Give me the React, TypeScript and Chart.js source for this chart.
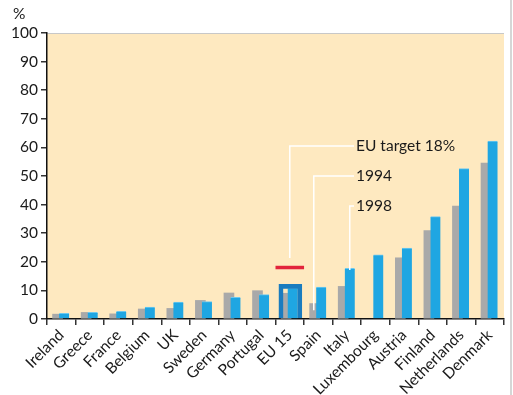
import React, { useEffect, useRef } from "react";
import { Chart, registerables } from "chart.js";

Chart.register(...registerables);

const categories = [
  "Ireland", "Greece", "France", "Belgium", "UK", "Sweden", "Germany", "Portugal",
  "EU 15", "Spain", "Italy", "Luxembourg", "Austria", "Finland", "Netherlands", "Denmark",
];
const values1994 = [1.7, 2.3, 1.8, 3.5, 3.7, 6.5, 9.1, 9.9, 9.0, 5.4, 11.4, null, 21.4, 30.9, 39.5, 54.5];
const values1998 = [2.0, 2.3, 2.7, 4.2, 5.9, 6.1, 7.6, 8.5, 10.8, 11.2, 17.7, 22.4, 24.8, 35.8, 52.6, 62.2];
const yTicks = { min: 0, max: 100, step: 10 };
const euIndex = 8;
const euTarget = 18;
const euBoxValue = 12.1;
const leaderTarget = [{ x: 8, y: 21.3 }, { x: 8, y: 60.5 }, { x: 10.25, y: 60.5 }];
const leader1994 = [{ x: 8.84, y: 3.1 }, { x: 8.84, y: 50 }, { x: 10.25, y: 50 }];
const leader1998 = [{ x: 10.1, y: 17.1 }, { x: 10.1, y: 39.5 }, { x: 10.25, y: 39.5 }];
const annotationTexts = [
  { text: "EU target 18%", x: 10.25, y: 60.5 },
  { text: "1994", x: 10.25, y: 50 },
  { text: "1998", x: 10.25, y: 39.5 },
];

const FONT = "Lato, 'Open Sans', sans-serif";

export default function App() {
  const ref = useRef<HTMLCanvasElement | null>(null);
  useEffect(() => {
    if (!ref.current) return;
    const bgPlugin = {
      id: "bg",
      beforeDraw(chart: any) {
        const { ctx, chartArea: a } = chart;
        ctx.save();
        ctx.fillStyle = "#fee9c0";
        ctx.fillRect(a.left, a.top, a.right - a.left, a.bottom - a.top);
        ctx.strokeStyle = "#c8c8c8";
        ctx.lineWidth = 1;
        ctx.beginPath();
        ctx.moveTo(a.left, a.top + 0.5);
        ctx.lineTo(a.right, a.top + 0.5);
        ctx.stroke();
        ctx.restore();
      },
      afterDraw(chart: any) {
        const { ctx } = chart;
        const xs = chart.scales.xl;
        const ys = chart.scales.y;
        ctx.save();
        ctx.fillStyle = "#1a1a1a";
        ctx.font = `15.5px ${FONT}`;
        ctx.textBaseline = "middle";
        ctx.textAlign = "left";
        for (const t of annotationTexts) {
          ctx.fillText(t.text, xs.getPixelForValue(t.x) + 2, ys.getPixelForValue(t.y));
        }
        ctx.fillText("%", 13, 14);
        ctx.restore();
      },
    };
    const grayData = values1994
      .map((v, i) => ({ x: i - 0.13, y: v }))
      .filter((p) => p.y != null);
    const blueData = values1998.map((v, i) => ({ x: i + 0.1, y: v }));
    const leaderStyle = {
      type: "line" as const,
      xAxisID: "xl",
      borderColor: "#ffffff",
      borderWidth: 1.5,
      pointRadius: 0,
      fill: false,
      tension: 0,
      order: 0,
    };
    const chart = new Chart(ref.current, {
      type: "bar",
      data: {
        labels: categories,
        datasets: [
          { ...leaderStyle, data: leaderTarget } as any,
          { ...leaderStyle, data: leader1994 } as any,
          { ...leaderStyle, data: leader1998 } as any,
          {
            type: "line",
            xAxisID: "xl",
            data: [{ x: euIndex - 0.5, y: euTarget }, { x: euIndex + 0.5, y: euTarget }],
            borderColor: "#e2243c",
            borderWidth: 3.5,
            pointRadius: 0,
            fill: false,
            order: 0,
          } as any,
          {
            xAxisID: "xl",
            grouped: false,
            data: [{ x: euIndex + 0.02, y: euBoxValue }],
            backgroundColor: "rgba(0,0,0,0)",
            borderColor: "#1a7cbf",
            borderWidth: 4,
            barThickness: 23,
            order: 1,
          } as any,
          {
            xAxisID: "xl",
            grouped: false,
            data: blueData,
            backgroundColor: "#1fa6e2",
            borderColor: "#6cc8ef",
            borderWidth: { top: 1, left: 0, right: 0, bottom: 0 },
            borderSkipped: false,
            barThickness: 10,
            order: 2,
          } as any,
          {
            xAxisID: "xl",
            grouped: false,
            data: grayData,
            backgroundColor: "#a9a9a9",
            barThickness: 10,
            order: 3,
          } as any,
        ],
      },
      options: {
        animation: false,
        responsive: false,
        maintainAspectRatio: false,
        layout: { padding: { left: 0, right: 9, top: 33, bottom: 0 } },
        plugins: { legend: { display: false }, tooltip: { enabled: false }, title: { display: false } },
        scales: {
          x: {
            type: "category",
            offset: true,
            grid: { display: true, offset: true, drawOnChartArea: false, tickLength: 6, color: "#333", lineWidth: 1.5 },
            border: { display: true, color: "#111", width: 1.5 },
            ticks: {
              autoSkip: false,
              minRotation: 45,
              maxRotation: 45,
              padding: 1,
              color: "#1a1a1a",
              font: { family: FONT, size: 15.5 },
            },
            afterFit(scale: any) { scale.height = 76; },
          },
          xl: {
            type: "linear",
            display: false,
            offset: false,
            grid: { offset: false },
            min: -0.5,
            max: categories.length - 0.5,
          },
          y: {
            min: yTicks.min,
            max: yTicks.max,
            grid: { display: true, drawOnChartArea: false, tickLength: 6, color: "#333", lineWidth: 1.5 },
            border: { display: true, color: "#111", width: 1.5 },
            ticks: {
              stepSize: yTicks.step,
              padding: 3,
              color: "#1a1a1a",
              font: { family: FONT, size: 15.5 },
            },
            afterFit(scale: any) { scale.width = 47; },
          },
        } as any,
      },
      plugins: [bgPlugin],
    });
    return () => chart.destroy();
  }, []);
  return (
    <div style={{ position: "fixed", left: 0, top: 0, width: 513, height: 395, background: "#fff" }}>
      <div style={{ position: "absolute", left: 510, top: 0, width: 2, height: 395, background: "#d6d6d6" }} />
      <canvas ref={ref} width={513} height={395} style={{ display: "block", width: 513, height: 395 }} />
    </div>
  );
}
